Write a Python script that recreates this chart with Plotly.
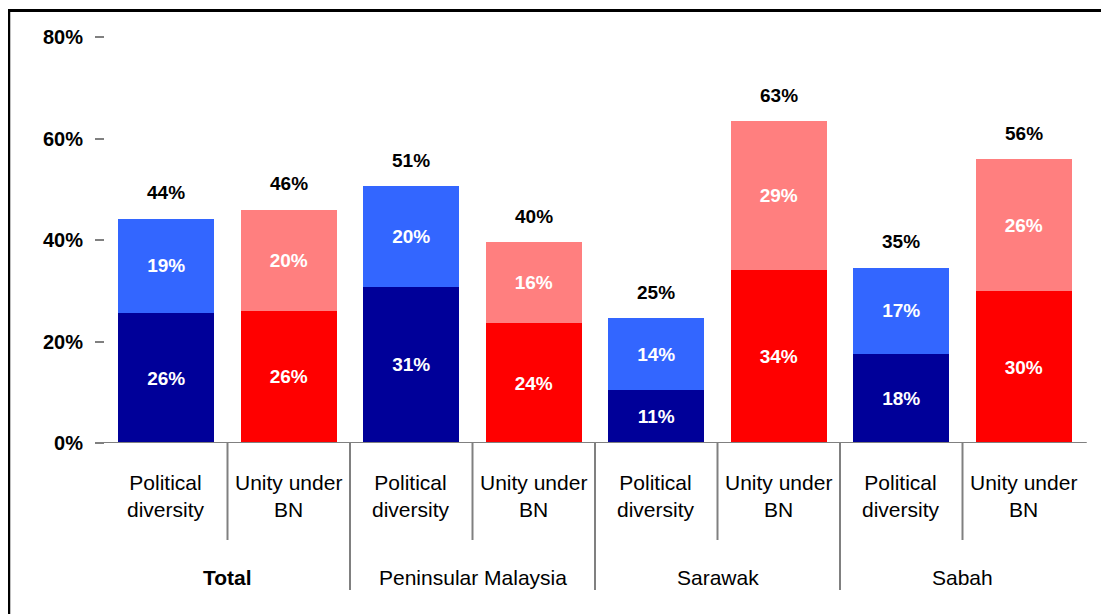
import plotly.graph_objects as go

# ---- data ----
bar_labels = ["Political<br>diversity", "Unity under<br>BN"] * 4
groups = ["Total", "Peninsular Malaysia", "Sarawak", "Sabah"]
group_bold = [True, False, False, False]
bottom_vals = [25.6, 26.1, 30.8, 23.6, 10.4, 34.1, 17.6, 29.9]
top_vals = [18.6, 19.9, 19.8, 16.0, 14.2, 29.3, 16.9, 26.0]
bottom_labels = [26, 26, 31, 24, 11, 34, 18, 30]
top_labels = [19, 20, 20, 16, 14, 29, 17, 26]
total_labels = [44, 46, 51, 40, 25, 63, 35, 56]
y_ticks = [0, 20, 40, 60, 80]
y_tick_text = ["0%", "20%", "40%", "60%", "80%"]

# ---- styling ----
FONT = "Liberation Sans"
bottom_colors = ["#000099", "#FF0000"] * 4
top_colors = ["#3366FF", "#FF7F7F"] * 4
GRAY = "#808080"

W, H = 1109, 614
OFF = 8  # page body margin
PL, PR = 105.25 - OFF, 1085.25 - OFF   # plot area in figure px
PT, PB = 37 - OFF, 443 - OFF
pw, ph = PR - PL, PB - PT

def px_x(p):  # p: screenshot px
    return (p - OFF - PL) / pw

def px_y(p):
    return (PB - (p - OFF)) / ph

xs = list(range(len(bottom_vals)))

inner_font = dict(family=FONT, size=19, color="white", weight="bold")
fig = go.Figure()
fig.add_trace(go.Bar(
    x=xs, y=bottom_vals, marker=dict(color=bottom_colors, line=dict(width=0)),
    text=[f"{v}%" for v in bottom_labels], textposition="inside",
    insidetextanchor="middle", textangle=0, constraintext="none",
    textfont=inner_font, hoverinfo="skip"))
fig.add_trace(go.Bar(
    x=xs, y=top_vals, marker=dict(color=top_colors, line=dict(width=0)),
    text=[f"{v}%" for v in top_labels], textposition="inside",
    insidetextanchor="middle", textangle=0, constraintext="none",
    textfont=inner_font, hoverinfo="skip"))

annotations = []
for i, (b, t, lab) in enumerate(zip(bottom_vals, top_vals, total_labels)):
    annotations.append(dict(x=i, y=b + t, xref="x", yref="y", text=f"{lab}%",
                            showarrow=False, yanchor="middle", yshift=26,
                            font=dict(family=FONT, size=19, color="black", weight="bold")))
for i, lab in enumerate(bar_labels):
    annotations.append(dict(x=i, y=px_y(496), xref="x", yref="paper", text=lab,
                            showarrow=False, yanchor="middle",
                            font=dict(family=FONT, size=21, color="black")))
for g, (name, bold) in enumerate(zip(groups, group_bold)):
    annotations.append(dict(x=2 * g + 0.5, y=px_y(577), xref="x", yref="paper",
                            text=name, showarrow=False, yanchor="middle",
                            font=dict(family=FONT, size=21, color="black",
                                      weight="bold" if bold else "normal")))

shapes = []
# frame
shapes.append(dict(type="rect", xref="paper", yref="paper",
                   x0=px_x(9), x1=px_x(1125), y0=px_y(630), y1=px_y(10.5),
                   line=dict(color="black", width=3), fillcolor="rgba(0,0,0,0)",
                   layer="below"))
# category axis line
shapes.append(dict(type="line", xref="paper", yref="y",
                   x0=px_x(96), x1=px_x(1087), y0=0, y1=0,
                   line=dict(color=GRAY, width=2)))
# separators
for k in range(1, len(xs)):
    long = (k % 2 == 0)
    shapes.append(dict(type="line", xref="x", yref="paper",
                       x0=k - 0.5, x1=k - 0.5, y0=0,
                       y1=px_y(590) if long else px_y(540),
                       line=dict(color=GRAY, width=2)))

fig.update_layout(
    width=W, height=H,
    margin=dict(l=PL, r=W - PR, t=PT, b=H - PB, pad=0),
    paper_bgcolor="white", plot_bgcolor="white",
    barmode="stack", bargap=0.216, showlegend=False,
    annotations=annotations, shapes=shapes,
    xaxis=dict(range=[-0.5, len(xs) - 0.5], showticklabels=False, showgrid=False,
               zeroline=False, showline=False, ticks=""),
    yaxis=dict(range=[0, 80], tickvals=y_ticks, ticktext=y_tick_text, showgrid=False,
               zeroline=False, showline=False, ticks="outside", ticklen=9,
               tickwidth=2, tickcolor=GRAY, ticklabelstandoff=8,
               tickfont=dict(family=FONT, size=20, color="black", weight="bold")),
)

fig.write_html("out.html")
